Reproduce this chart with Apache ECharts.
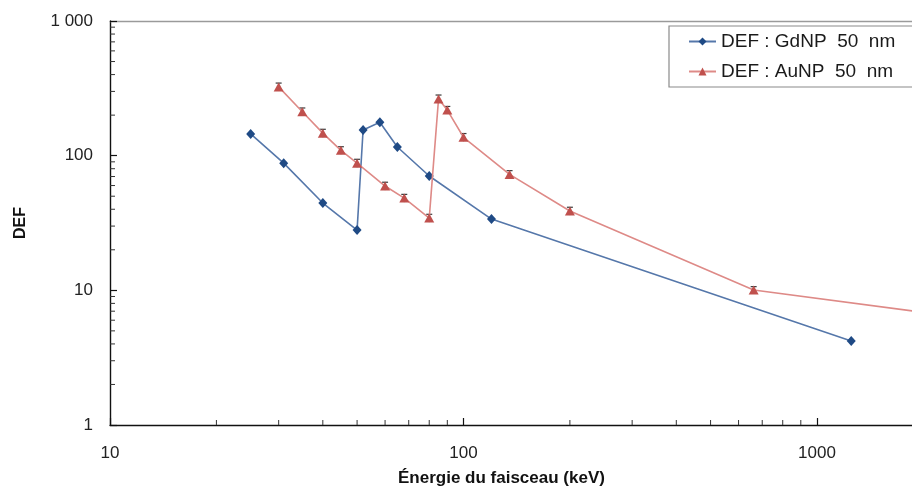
<!DOCTYPE html>
<html>
<head>
<meta charset="utf-8">
<script src="https://cdn.jsdelivr.net/npm/echarts@6/dist/echarts.min.js"></script>
<style>
html,body{margin:0;padding:0;background:#fff;}
#chart{width:912px;height:492px;}
</style>
</head>
<body>
<div id="chart"></div>
<script>
// ---- data ----
const gdName = 'DEF : GdNP  50  nm';
const auName = 'DEF : AuNP  50  nm';
const gdEnergy = [25, 31, 40, 50, 52, 58, 65, 80, 120, 1250];
const gdDEF    = [145, 88, 44.5, 28, 155, 177, 116, 70.6, 33.8, 4.2];
const auEnergy = [30, 35, 40, 45, 50, 60, 68, 80, 85, 90, 100, 135, 200, 662, 6000];
const auDEF    = [324, 212, 147, 109.5, 88, 59.5, 48.4, 34.4, 264, 218, 137, 72.6, 38.8, 10.05, 4.7];
const auErr    = [22, 14, 10, 7, 6, 4, 3.2, 2.3, 18, 14, 9, 4.8, 2.6, 0.6, 0];
const xTickLabels = {10: '10', 100: '100', 1000: '1000'};
const yTickLabels = {1: '1', 10: '10', 100: '100', 1000: '1 000'};
const xMinor = [20,30,40,50,60,70,80,90,200,300,400,500,600,700,800,900];
const yMinor = [2,3,4,5,6,7,8,9,20,30,40,50,60,70,80,90,200,300,400,500,600,700,800,900];
const xTitle = 'Énergie du faisceau (keV)';
const yTitle = 'DEF';
const xMin = 10, xMax = 1857;   // visible part of the (cropped) energy axis
const yMin = 1, yMax = 1000;

const FONT = '"Liberation Sans", Arial, sans-serif';
const chart = echarts.init(document.getElementById('chart'), null, {renderer: 'canvas'});

const zip = (a, b) => a.map((v, i) => [v, b[i]]);

chart.setOption({
  animation: false,
  backgroundColor: '#fff',
  grid: {left: 110, top: 21, bottom: 67, right: 0, show: false, containLabel: false},
  legend: {
    left: 669, top: 26, orient: 'vertical',
    padding: [5, 80, 5, 19], itemGap: 9,
    itemWidth: 27, itemHeight: 10,
    borderColor: '#8a8a8a', borderWidth: 1.2, backgroundColor: '#fff',
    textStyle: {fontFamily: FONT, fontSize: 19, color: '#1a1a1a', lineHeight: 21},
    data: [gdName, auName]
  },
  xAxis: [{
    type: 'log', logBase: 10, min: xMin, max: xMax,
    axisLine: {show: true, lineStyle: {color: '#111', width: 1.4}},
    axisTick: {show: true, inside: true, length: 7, lineStyle: {color: '#111', width: 1.2}},
    splitLine: {show: false},
    axisLabel: {
      margin: 20, fontFamily: FONT, fontSize: 17, color: '#222', showMaxLabel: false,
      formatter: v => { const k = Math.round(v); return xTickLabels[k] !== undefined ? xTickLabels[k] : ''; }
    }
  }, {
    type: 'log', logBase: 10, min: xMin, max: xMax, position: 'top',
    axisLine: {show: true, lineStyle: {color: '#9a9a9a', width: 1.3}},
    axisTick: {show: false}, axisLabel: {show: false}, splitLine: {show: false}
  }],
  yAxis: {
    type: 'log', logBase: 10, min: yMin, max: yMax,
    name: yTitle, nameLocation: 'middle', nameGap: 81, nameRotate: 90,
    nameTextStyle: {fontFamily: FONT, fontSize: 16, fontWeight: 'bold', color: '#111'},
    axisLine: {show: true, lineStyle: {color: '#111', width: 1.4}},
    axisTick: {show: true, inside: true, length: 7, lineStyle: {color: '#111', width: 1.2}},
    splitLine: {show: false},
    axisLabel: {
      margin: 17, fontFamily: FONT, fontSize: 17, color: '#222',
      formatter: v => { const k = Math.round(v); return yTickLabels[k] !== undefined ? yTickLabels[k] : ''; }
    }
  },
  graphic: [{
    type: 'text', left: 519 - 121, top: 470,
    style: {text: xTitle, font: 'bold 17px ' + FONT, fill: '#111'}
  }],
  series: [
    {
      type: 'custom', name: 'xminor', silent: true, clip: false, z: 1,
      data: xMinor.map(v => [v, yMin]),
      renderItem: (params, api) => {
        const p = api.coord([api.value(0), api.value(1)]);
        return {type: 'line', shape: {x1: p[0], y1: p[1], x2: p[0], y2: p[1] - 5}, style: {stroke: '#333', lineWidth: 1}};
      }
    },
    {
      type: 'custom', name: 'yminor', silent: true, clip: false, z: 1,
      data: yMinor.map(v => [xMin, v]),
      renderItem: (params, api) => {
        const p = api.coord([api.value(0), api.value(1)]);
        return {type: 'line', shape: {x1: p[0], y1: p[1], x2: p[0] + 5, y2: p[1]}, style: {stroke: '#333', lineWidth: 1}};
      }
    },
    {
      type: 'custom', name: 'auerr', silent: true, clip: true, z: 2,
      data: auEnergy.map((x, i) => [x, auDEF[i], auErr[i]]),
      renderItem: (params, api) => {
        const x = api.value(0), y = api.value(1), e = api.value(2);
        if (!e) return null;
        const top = api.coord([x, y + e]);
        const bot = api.coord([x, y - e]);
        return {type: 'group', children: [
          {type: 'line', shape: {x1: top[0], y1: top[1], x2: bot[0], y2: bot[1]}, style: {stroke: '#3a3a3a', lineWidth: 1}},
          {type: 'line', shape: {x1: top[0] - 3, y1: top[1], x2: top[0] + 3, y2: top[1]}, style: {stroke: '#3a3a3a', lineWidth: 1.2}}
        ]};
      }
    },
    {
      type: 'line', name: gdName, z: 3, clip: true,
      data: zip(gdEnergy, gdDEF),
      symbol: 'diamond', symbolSize: [9, 10], showSymbol: true,
      lineStyle: {color: '#5577aa', width: 1.6},
      itemStyle: {color: '#1f4a85'},
      emphasis: {disabled: true}
    },
    {
      type: 'line', name: auName, z: 4, clip: true,
      data: zip(auEnergy, auDEF),
      symbol: 'triangle', symbolSize: [10, 9], showSymbol: true,
      lineStyle: {color: '#de8a87', width: 1.6},
      itemStyle: {color: '#c0504d'},
      emphasis: {disabled: true}
    }
  ]
});
</script>
</body>
</html>
